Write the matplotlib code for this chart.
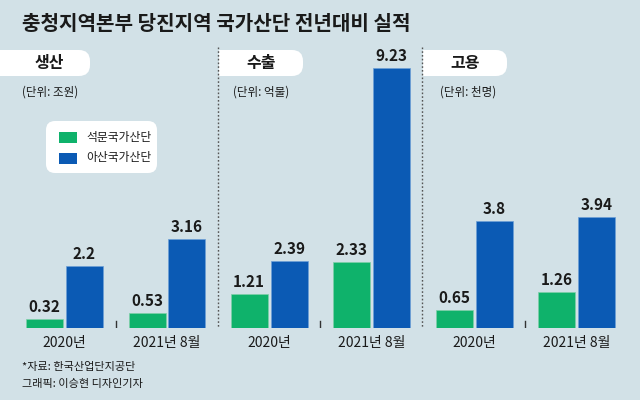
import matplotlib
matplotlib.use("Agg")
import matplotlib.pyplot as plt
from matplotlib.patches import FancyBboxPatch, Rectangle

plt.rcParams['font.family'] = ['Noto Sans CJK KR', 'DejaVu Sans']

# data
title = "충청지역본부 당진지역 국가산단 전년대비 실적"
periods = ["2020년", "2021년 8월"]
series_names = ["석문국가산단", "아산국가산단"]
panel_names = ["생산", "수출", "고용"]
panel_units = ["(단위: 조원)", "(단위: 억불)", "(단위: 천명)"]
seokmun = [[0.32, 0.53], [1.21, 2.33], [0.65, 1.26]]
asan = [[2.2, 3.16], [2.39, 9.23], [3.8, 3.94]]
notes = ["*자료: 한국산업단지공단", "그래픽: 이승현 디자인기자"]

bg = "#d2e1e7"
green = "#0fb26b"
blue = "#0b5ab4"
dark = "#1a1a1a"

W, H = 640, 400
px_per_unit = 28.2     # vertical scale, same in all panels
group_px = 102.5       # distance between group centres
base_y = 328           # baseline (px from top)

fig = plt.figure(figsize=(6.4, 4), dpi=100)
fig.patch.set_facecolor(bg)

# overlay in pixel coords for decorations
deco = fig.add_axes([0, 0, 1, 1], zorder=0)
deco.set_xlim(0, W)
deco.set_ylim(H, 0)
deco.axis('off')
deco.patch.set_alpha(0)

deco.text(22, 23, title, fontsize=14.5, fontweight='bold', color=dark, va='center', ha='left')

# panels: (left edge, right edge, first group centre) in px
panels = [(0, 218, 64.5), (218, 422, 269), (422, 640, 474)]
header_boxes = [(-20, 90), (219, 303), (423, 507)]
unit_x = [22, 233, 440]

for i, (left, right, c0) in enumerate(panels):
    hx0, hx1 = header_boxes[i]
    deco.add_patch(FancyBboxPatch((hx0, 50), hx1 - hx0, 26,
                                  boxstyle="round,pad=0,rounding_size=11",
                                  fc='white', ec='none'))
    deco.add_patch(Rectangle((hx0, 50), 20, 26, fc='white', ec='none'))
    deco.text((max(hx0, 0) + hx1) / 2 + (4 if i == 0 else 0), 63, panel_names[i],
              fontsize=11.5, fontweight='bold', color=dark, ha='center', va='center')
    deco.text(unit_x[i], 92, panel_units[i], fontsize=8.3, color=dark,
              ha='left', va='center')
    if i > 0:
        deco.plot([left, left], [47, base_y], color='#555555', lw=1,
                  linestyle=(0, (1.2, 1.5)))

    ax = fig.add_axes([left / W, (H - base_y) / H, (right - left) / W, 280 / H], zorder=2)
    ax.set_xlim(-(c0 - left) / group_px, (right - c0) / group_px)
    ax.set_ylim(0, 280 / px_per_unit)
    ax.axis('off')
    ax.patch.set_alpha(0)

    xs = list(range(len(periods)))
    off = 20 / group_px
    bw = 37 / group_px
    b1 = ax.bar([x - off for x in xs], seokmun[i], width=bw, color=green,
                edgecolor='#7fd0a8', linewidth=0.5, label=series_names[0])
    b2 = ax.bar([x + off for x in xs], asan[i], width=bw, color=blue,
                edgecolor='#6d9fd6', linewidth=0.5, label=series_names[1])
    pad = 4 / px_per_unit
    for bars, vals in ((b1, seokmun[i]), (b2, asan[i])):
        for b, v in zip(bars, vals):
            ax.text(b.get_x() + b.get_width() / 2, v + pad, f"{v:g}",
                    ha='center', va='bottom', fontsize=11, fontweight='bold',
                    color=dark)
    # small divider between the two groups
    ax.plot([0.5, 0.5], [0, 7 / px_per_unit], color='#333333', lw=1)
    for x, p in zip(xs, periods):
        ax.text(x, -15 / px_per_unit, p, ha='center', va='center', fontsize=10,
                color=dark, clip_on=False)

# legend box
deco.add_patch(FancyBboxPatch((46, 121), 111, 52, boxstyle="round,pad=0,rounding_size=9",
                              fc='white', ec='none'))
for j, (name, col) in enumerate(zip(series_names, [green, blue])):
    y = 137 + j * 21
    deco.add_patch(Rectangle((59, y - 5.5), 18, 11, fc=col, ec='none'))
    deco.text(86, y, name, fontsize=8.5, color=dark, ha='left', va='center')

for k, n in enumerate(notes):
    deco.text(22, 367 + k * 17, n, fontsize=8, color=dark, ha='left', va='center')

fig.savefig("out.png", dpi=100, facecolor=bg)
